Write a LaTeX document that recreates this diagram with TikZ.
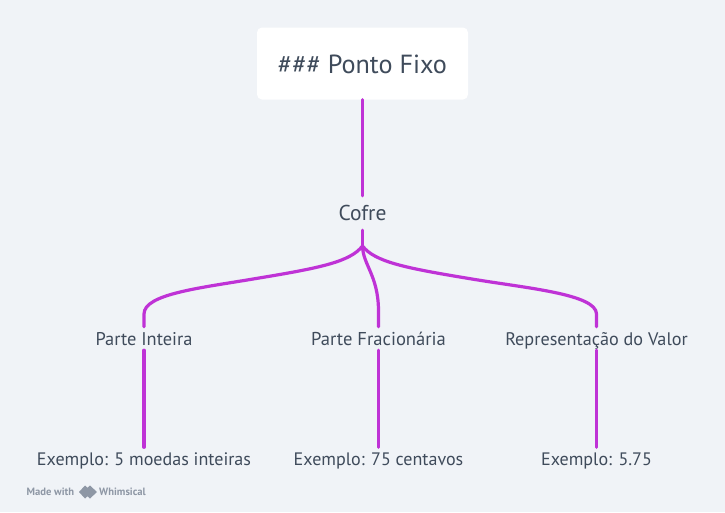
\documentclass[tikz,border=0pt]{standalone}
\usepackage{fontspec}
\setmainfont{PT Sans}
\definecolor{bgc}{HTML}{F0F3F7}
\definecolor{txt}{HTML}{3F4B5B}
\definecolor{wire}{HTML}{BF32D6}
\definecolor{foot}{HTML}{8E97A5}
\tikzset{
  label node/.style={text=txt,font=\fontsize{18.05}{20}\selectfont,inner sep=0pt,text height=14.5pt,text depth=2.5pt,minimum height=23pt,anchor=center},
  mid node/.style={label node,text height=15.5pt,text depth=2pt},
  root node/.style={fill=white,rounded corners=5pt,text=txt,font=\fontsize{26.2}{28}\selectfont,text height=19pt,text depth=0pt,minimum width=211pt,minimum height=72pt,inner sep=0pt},
  wire line/.style={draw=wire,line width=3.2pt,line cap=round},
  foot text/.style={text=foot,font=\bfseries\fontsize{10.6}{12}\selectfont,inner sep=0pt,anchor=west}
}
\begin{document}
\begin{tikzpicture}[x=1pt,y=-1pt]
\useasboundingbox (0,0) rectangle (725,512);
\fill[bgc] (0,0) rectangle (725,512);
\node[root node] (root) at (362.5,63.5) {\#\#\# Ponto Fixo};
\node[label node,font=\fontsize{21.5}{24}\selectfont,text height=16pt,text depth=2pt,minimum height=34pt] (cofre) at (362.5,213) {Cofre};
\node[mid node,font=\fontsize{18.4}{20}\selectfont] (inteira) at (144,338.5) {Parte Inteira};
\node[mid node,font=\fontsize{18.6}{20}\selectfont] (frac) at (378.5,338.5) {Parte Fracionária};
\node[mid node,font=\fontsize{18.2}{20}\selectfont] (repr) at (596.5,338.5) {Representação do Valor};
\node[label node] (ex1) at (144,459) {Exemplo: 5 moedas inteiras};
\node[label node] (ex2) at (378.5,459) {Exemplo: 75 centavos};
\node[label node] (ex3) at (596.5,459) {Exemplo: 5.75};
\coordinate (fork) at (362.5,246);
\coordinate (lmid) at (253,279);
\coordinate (rmid) at (472,279);
\coordinate (lend) at (144,314);
\coordinate (rend) at (596.5,314);
\coordinate (mend) at (378.5,310);
\draw[wire line] (root.south) -- (cofre.north);
\draw[wire line] (cofre.south) -- (fork);
\draw[wire line] (fork) .. controls (350,262) and (320,268) .. (lmid) .. controls (200,288) and (144,294) .. (lend) -- (inteira.north);
\draw[wire line] (fork) .. controls (363,265) and (378,275) .. (mend) -- (frac.north);
\draw[wire line] (fork) .. controls (375,262) and (405,268) .. (rmid) .. controls (525,288) and (596.5,294) .. (rend) -- (repr.north);
\draw[wire line] (inteira.south) -- (ex1.north);
\draw[wire line] (frac.south) -- (ex2.north);
\draw[wire line] (repr.south) -- (ex3.north);
\node[foot text] (made) at (26.5,492) {Made with};
\node[foot text] (whim) at (99,492) {Whimsical};
\fill[foot] (79,492) -- (85,485.5) -- (89,489) -- (86,492) -- (89,495) -- (85,498.5) -- cycle;
\fill[foot] (83,492) -- (90,485.5) -- (97,492) -- (90,498.5) -- cycle;
\end{tikzpicture}
\end{document}
